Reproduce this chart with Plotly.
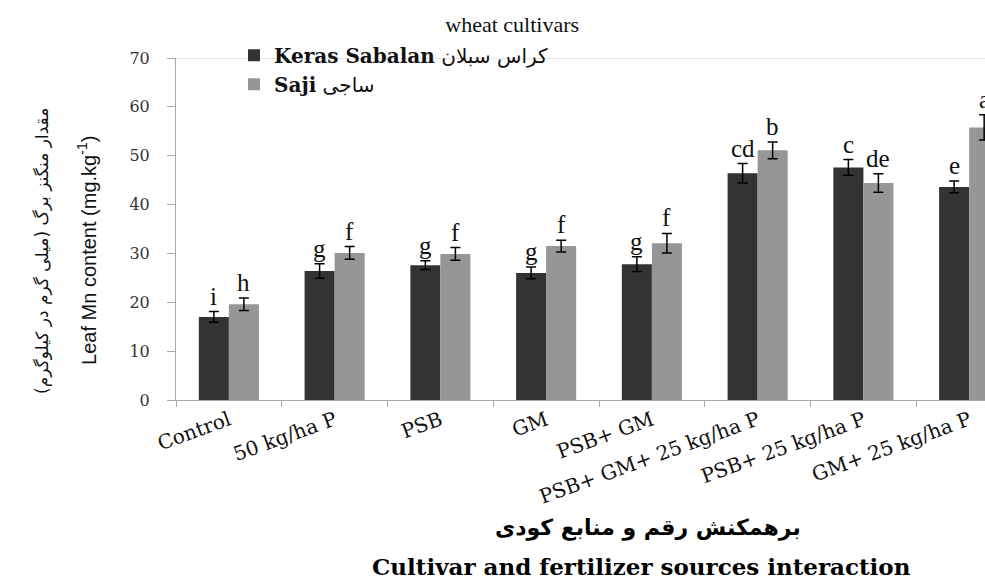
import plotly.graph_objects as go

categories = ["Control", "50 kg/ha P", "PSB", "GM", "PSB+ GM",
              "PSB+ GM+ 25 kg/ha P", "PSB+ 25 kg/ha P", "GM+ 25 kg/ha P"]
keras_values = [17.0, 26.4, 27.6, 26.0, 27.8, 46.4, 47.6, 43.6]
keras_err = [1.1, 1.5, 0.9, 1.2, 1.5, 2.0, 1.6, 1.2]
saji_values = [19.6, 30.1, 29.9, 31.5, 32.1, 51.1, 44.4, 55.8]
saji_err = [1.3, 1.3, 1.3, 1.2, 2.0, 1.7, 1.9, 2.6]
keras_letters = ["i", "g", "g", "g", "g", "cd", "c", "e"]
saji_letters = ["h", "f", "f", "f", "f", "b", "de", "a"]
y_ticks = [0, 10, 20, 30, 40, 50, 60, 70]

PERSIAN_FONT = "DejaVu Sans"
SERIF = "Liberation Serif, Times New Roman, serif"
WIDE_SERIF = "DejaVu Serif, serif"

fig = go.Figure()
fig.add_trace(go.Bar(
    x=categories, y=keras_values,
    name="<b>Keras Sabalan</b> <span style='font-family:DejaVu Sans;font-weight:normal'>کراس سبلان</span>",
    marker=dict(color="#333333", line=dict(width=0)),
    error_y=dict(type="data", array=keras_err, color="black", thickness=1.5, width=5),
))
fig.add_trace(go.Bar(
    x=categories, y=saji_values,
    name="<b>Saji</b> <span style='font-family:DejaVu Sans;font-weight:normal'>ساجی</span>",
    marker=dict(color="#969696", line=dict(width=0)),
    error_y=dict(type="data", array=saji_err, color="black", thickness=1.5, width=5),
))

annotations = []
for cat, v, e, t in zip(categories, keras_values, keras_err, keras_letters):
    annotations.append(dict(x=cat, y=v + e, xref="x", yref="y", text=t, showarrow=False,
                            xshift=-15, yanchor="bottom", yshift=0,
                            font=dict(family=SERIF, size=25, color="#111")))
for cat, v, e, t in zip(categories, saji_values, saji_err, saji_letters):
    annotations.append(dict(x=cat, y=v + e, xref="x", yref="y", text=t, showarrow=False,
                            xshift=15, yanchor="bottom", yshift=0,
                            font=dict(family=SERIF, size=25, color="#111")))

# y-axis titles
annotations.append(dict(text="مقدار منگنز برگ (میلی گرم در کیلوگرم)", xref="paper", yref="paper",
                        x=0, y=0.436, xshift=-134, textangle=-90, showarrow=False,
                        xanchor="center", yanchor="middle",
                        font=dict(family=PERSIAN_FONT, size=17, color="#111")))
annotations.append(dict(text="Leaf Mn content (mg.kg<sup>-1</sup>)", xref="paper", yref="paper",
                        x=0, y=0.436, xshift=-89, textangle=-90, showarrow=False,
                        xanchor="center", yanchor="middle",
                        font=dict(family="Liberation Sans Narrow, Arial Narrow, sans-serif", size=20, color="#111")))
# x-axis titles
annotations.append(dict(text="<b>برهمکنش رقم و منابع کودی</b>", xref="paper", yref="paper",
                        x=(648 - 176) / 809, y=0, yshift=-128, showarrow=False,
                        xanchor="center", yanchor="middle",
                        font=dict(family=PERSIAN_FONT, size=22, color="#000")))
annotations.append(dict(text="<b>Cultivar and fertilizer sources interaction</b>", xref="paper", yref="paper",
                        x=(641 - 176) / 809, y=0, yshift=-166, showarrow=False,
                        xanchor="center", yanchor="middle",
                        font=dict(family=WIDE_SERIF, size=23, color="#000")))

fig.update_layout(
    width=985, height=581,
    margin=dict(l=176, r=0, t=58, b=181),
    paper_bgcolor="white", plot_bgcolor="white",
    barmode="group", bargap=0.432, bargroupgap=0,
    title=dict(text="wheat cultivars", x=0.52, y=1 - 24 / 581, xref="container", yref="container",
               xanchor="center", yanchor="middle",
               font=dict(family=SERIF, size=22, color="#111")),
    legend=dict(x=(234 - 176) / 809, y=1.065, xanchor="left", yanchor="top",
                bgcolor="rgba(0,0,0,0)", font=dict(family=WIDE_SERIF, size=20, color="#111"),
                tracegroupgap=0),
    xaxis=dict(range=[-0.5, 7.15], showline=True, linecolor="#aaaaaa", linewidth=1,
               ticks="outside", tickson="boundaries", ticklen=6, tickcolor="#aaaaaa",
               tickangle=-20, showgrid=False,
               tickfont=dict(family=WIDE_SERIF, size=20, color="#111")),
    yaxis=dict(range=[0, 70], tickvals=y_ticks, showline=True, linecolor="#aaaaaa", linewidth=1,
               ticks="outside", ticklen=8, tickcolor="#aaaaaa", showgrid=False, zeroline=False,
               ticklabelstandoff=14,
               tickfont=dict(family=WIDE_SERIF, size=16, color="#333")),
    annotations=annotations,
    shapes=[dict(type="line", xref="paper", yref="y", x0=0, x1=1, y0=70, y1=70,
                 line=dict(color="#d0d0d0", width=1))],
    showlegend=True,
)

fig.write_html("out.html")
